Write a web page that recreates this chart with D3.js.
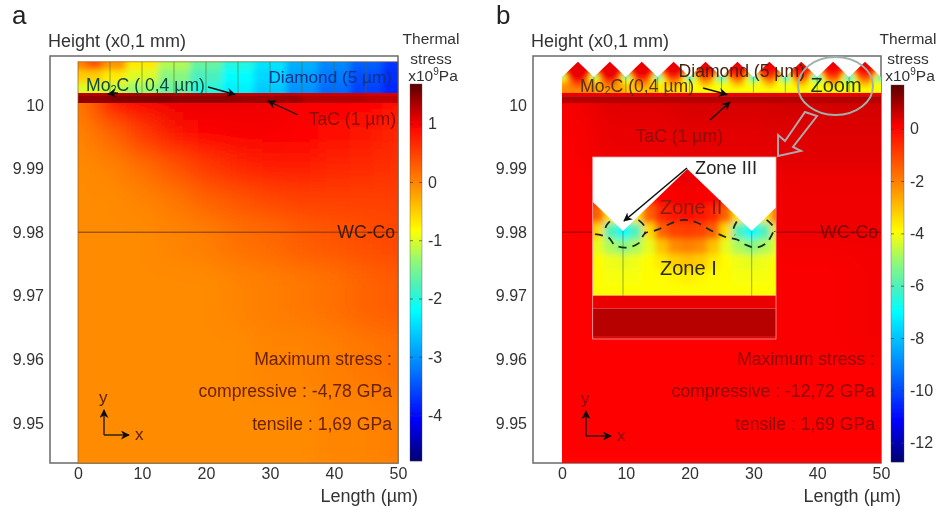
<!DOCTYPE html>
<html>
<head>
<meta charset="utf-8">
<script src="https://cdn.jsdelivr.net/npm/d3@7"></script>
<style>
  html, body { margin: 0; padding: 0; background: #fff; }
  svg { display: block; }
  text { font-family: "Liberation Sans", Arial, sans-serif; }
</style>
</head>
<body>
<svg id="chart" width="941" height="510"></svg>
<script>
// colour map, position along the bar (0 = top, 1 = bottom)
const mapStops = [0, 0.11, 0.27, 0.39, 0.47, 0.54, 0.60, 0.75, 0.89, 1];
const mapColors = ['#5a0000', '#ff0000', '#ff8c00', '#ffff00', '#90f878', '#48f0c0', '#00ffff', '#0080ff', '#0000ff', '#000070'];

// axes
const lengthTicks = [0, 10, 20, 30, 40, 50];
const heightTicks = [10, 9.99, 9.98, 9.97, 9.96, 9.95];
const barTicksA = [1, 0, -1, -2, -3, -4];
const barTicksB = [0, -2, -4, -6, -8, -10, -12];
const stressRangeA = [-4.78, 1.69];
const stressRangeB = [-12.72, 1.69];

// layer boundaries (height units)
const diamondTop = 10.0068;
const valleyHeight = 10.0044;
const diamondBase = 10.0019;
const mo2cBase = 10.0014;
const tacBase = 10.0003;
const bottomHeight = 9.9437;
const markerHeight = 9.98;
const grainX = [5, 10, 15, 20, 25, 30, 35, 40, 45];
const valleyX = [0, 5, 10, 15, 20, 25, 30, 35, 40, 45, 50];
const peakX = [2.5, 7.5, 12.5, 17.5, 22.5, 27.5, 32.5, 37.5, 42.5, 47.5];

// panel a, diamond film stress
const diamondXA = [0, 2.5, 5, 10, 15, 20, 25, 30, 35, 40, 45, 50];
const diamondYA = [10.0066, 10.0045, 10.0025];
const diamondStressA = [
  [0, 0.35, -0.1, -0.7, -1.2, -1.6, -2.0, -2.4, -2.8, -3.1, -3.4, -3.7],
  [-0.5, -0.5, -0.7, -1.0, -1.4, -1.8, -2.2, -2.5, -2.9, -3.2, -3.5, -3.75],
  [-1.0, -1.0, -1.1, -1.3, -1.6, -2.0, -2.3, -2.6, -3.0, -3.3, -3.6, -3.8]
];

// panel a, substrate stress
const substrateX = [0, 5, 10, 15, 20, 25, 30, 35, 40, 45, 50];
const substrateYA = [10.0002, 9.995, 9.99, 9.985, 9.98, 9.97, 9.96, 9.95];
const substrateStressA = [
  [0.1, 0.85, 1.0, 1.05, 1.05, 1.05, 1.05, 1.0, 1.0, 0.95, 0.9],
  [0, 0.2, 0.55, 0.8, 0.95, 1.0, 1.0, 0.98, 0.92, 0.82, 0.7],
  [-0.05, 0, 0.15, 0.35, 0.55, 0.7, 0.75, 0.75, 0.7, 0.65, 0.6],
  [-0.05, -0.05, 0, 0.1, 0.25, 0.35, 0.45, 0.5, 0.5, 0.5, 0.5],
  [-0.05, -0.05, -0.05, 0, 0.05, 0.15, 0.2, 0.3, 0.35, 0.4, 0.45],
  [-0.05, -0.05, -0.05, -0.05, -0.05, 0, 0.05, 0.1, 0.15, 0.25, 0.3],
  [-0.05, -0.05, -0.05, -0.05, -0.05, -0.05, 0, 0, 0.05, 0.1, 0.15],
  [-0.05, -0.05, -0.05, -0.05, -0.05, -0.05, -0.05, -0.05, 0, 0, 0.05]
];
const interlayerX = [0, 10, 20, 30, 40, 50];
const tacStressA = [1.45, 1.5, 1.45, 1.4, 1.3, 1.25];
const mo2cStressA = [1.3, 1.35, 1.3, 1.25, 1.2, 1.15];

// panel b, stress over one diamond tooth (valley to valley)
const toothOffsets = [0, 0.5, 1, 1.5, 2, 2.5, 3, 3.5, 4, 4.5];
const toothY = [10.0066, 10.0058, 10.005, 10.0044, 10.0038, 10.0032, 10.0026, 10.002];
const toothStress = [
  [-0.3, -0.3, 0, 0.2, 0.3, 0.3, 0.3, 0.2, 0, -0.3],
  [-1, -1, -0.3, 0.1, 0.15, 0.2, 0.15, 0.1, -0.3, -1],
  [-6, -3.5, -1.5, -0.5, -0.2, -0.1, -0.2, -0.5, -1.5, -3.5],
  [-7, -6, -3.4, -1.5, -1, -0.9, -1, -1.5, -3.4, -6],
  [-5.2, -4.8, -4.2, -3, -2.2, -2, -2.2, -3, -4.2, -4.8],
  [-4.2, -4.1, -3.9, -3.6, -3.2, -3, -3.2, -3.6, -3.9, -4.1],
  [-4, -4, -3.9, -3.9, -3.8, -3.7, -3.8, -3.9, -3.9, -4],
  [-3.95, -3.95, -3.95, -3.95, -3.95, -3.95, -3.95, -3.95, -3.95, -3.95]
];
// the first teeth at the free edge are less compressed
const toothShift = [1.8, 1.4, 0.9, 0.4, 0, 0, 0, 0, 0, 0];
const toothPeakStress = 0.3;

// panel b, substrate stress
const substrateXB = [0, 10, 25, 40, 50];
const substrateYB = [10.0002, 9.995, 9.985, 9.97, 9.95];
const substrateStressB = [
  [0.2, 0.4, 0.5, 0.55, 0.55],
  [0.15, 0.3, 0.35, 0.4, 0.4],
  [0.1, 0.15, 0.2, 0.25, 0.25],
  [0.1, 0.1, 0.1, 0.15, 0.2],
  [0.05, 0.05, 0.05, 0.05, 0.05]
];
const tacStressB = 0.8;
const mo2cStressB = 0.3;

// dashed boundary of zone II in the zoomed view (length, height)
const zoneLine = [
  [38.91, 10.00428], [39.43, 10.00415], [39.69, 10.00385], [40.14, 10.00376], [40.6, 10.00392],
  [40.86, 10.00431], [41.31, 10.00444], [41.83, 10.00468], [42.34, 10.00483], [42.86, 10.00473],
  [43.38, 10.00444], [44.03, 10.00415], [44.42, 10.00407], [44.8, 10.00385], [45.19, 10.00376],
  [45.58, 10.00394], [45.84, 10.00437]
];
const zoneArcs = [
  [[39.49, 10.00477], [39.33, 10.00455], [39.37, 10.00431]],
  [[40.6, 10.00483], [40.82, 10.0046], [40.86, 10.00431]],
  [[44.42, 10.00477], [44.3, 10.0045], [44.35, 10.00424]],
  [[45.58, 10.00483], [45.82, 10.0046], [45.9, 10.00437]]
];

const svg = d3.select('#chart');
const defs = svg.append('defs');
const root = svg.append('g').attr('filter', 'url(#soft)');

function addBlur(id, dev) {
  defs.append('filter').attr('id', id)
    .attr('filterUnits', 'userSpaceOnUse')
    .attr('x', -100).attr('y', -100).attr('width', 1141).attr('height', 710)
    .append('feGaussianBlur').attr('stdDeviation', dev);
}
addBlur('soft', 0.7);
addBlur('blurFilm', 2);
addBlur('blurZoom', 3);
addBlur('blurDia', 3);
addBlur('blurSub', 12);

defs.append('marker').attr('id', 'head')
  .attr('viewBox', '0 0 10 10').attr('refX', 9).attr('refY', 5)
  .attr('markerWidth', 9).attr('markerHeight', 9).attr('markerUnits', 'userSpaceOnUse')
  .attr('orient', 'auto')
  .append('path').attr('d', 'M0,0L10,5L0,10L3,5Z').attr('fill', '#111');

function stressColor(range) {
  const span = range[1] - range[0];
  return d3.scaleLinear()
    .domain(mapStops.map(t => range[1] - t * span))
    .range(mapColors)
    .clamp(true);
}

// one block of cells, the outer cells run past the clip so the blur keeps its edges
function drawCells(parent, xs, ys, rows, color, x, y, blurId, clipId) {
  const g = parent.append('g').attr('clip-path', 'url(#' + clipId + ')')
    .append('g').attr('filter', 'url(#' + blurId + ')');
  const over = 60;
  ys.forEach((yv, r) => {
    const top = r === 0 ? y(yv) - over : (y(ys[r - 1]) + y(yv)) / 2;
    const bot = r === ys.length - 1 ? y(yv) + over : (y(ys[r + 1]) + y(yv)) / 2;
    xs.forEach((xv, c) => {
      const left = c === 0 ? x(xv) - over : (x(xs[c - 1]) + x(xv)) / 2;
      const right = c === xs.length - 1 ? x(xv) + over : (x(xs[c + 1]) + x(xv)) / 2;
      g.append('rect')
        .attr('x', left).attr('y', top)
        .attr('width', right - left + 0.6).attr('height', bot - top + 0.6)
        .attr('shape-rendering', 'crispEdges')
        .attr('fill', color(rows[r][c]));
    });
  });
}

function addClip(id, build) {
  build(defs.append('clipPath').attr('id', id));
}

function clipRect(id, x0, y0, x1, y1) {
  addClip(id, c => c.append('rect').attr('x', x0).attr('y', y0).attr('width', x1 - x0).attr('height', y1 - y0));
}

function label(g, x, y, str, size, fill, anchor) {
  return g.append('text').attr('x', x).attr('y', y)
    .attr('font-size', size).attr('fill', fill)
    .attr('text-anchor', anchor || 'start')
    .attr('dominant-baseline', 'middle')
    .text(str);
}

function arrow(g, x1, y1, x2, y2, w) {
  g.append('line').attr('x1', x1).attr('y1', y1).attr('x2', x2).attr('y2', y2)
    .attr('stroke', '#111').attr('stroke-width', w || 1.3)
    .attr('marker-end', 'url(#head)');
}

function mo2cLabel(g, x, y, fill, rest) {
  const t = label(g, x, y, 'Mo', 17.6, fill);
  t.append('tspan').attr('font-size', 11).attr('dy', 4).text('2');
  t.append('tspan').attr('dy', -4).text(rest);
}

// frame, axes, colour bar and the text around a panel
function drawFrame(p) {
  const g = root;
  g.append('rect').attr('x', p.frameL).attr('y', p.frameT)
    .attr('width', p.frameR - p.frameL).attr('height', p.frameB - p.frameT)
    .attr('fill', 'none').attr('stroke', '#6a6a6a').attr('stroke-width', 1.5);

  const xAxis = d3.axisBottom(p.x).tickValues(lengthTicks).tickSize(0).tickPadding(5);
  const ax = g.append('g').attr('transform', 'translate(0,' + p.frameB + ')').call(xAxis);
  const yAxis = d3.axisLeft(p.y).tickValues(heightTicks).tickSize(0).tickPadding(6).tickFormat(d => String(d));
  const ay = g.append('g').attr('transform', 'translate(' + p.frameL + ',0)').call(yAxis);
  [ax, ay].forEach(a => {
    a.select('.domain').remove();
    a.selectAll('text').attr('font-size', 16).attr('fill', '#333')
      .attr('font-family', '"Liberation Sans", Arial, sans-serif');
  });

  label(g, p.frameL - 2, 42, 'Height (x0,1 mm)', 18, '#333');
  label(g, p.frameR + 20, 497, 'Length (µm)', 18, '#333', 'end');
  label(g, p.letterX, 17, p.letter, 26, '#222');

  // colour bar
  const bar = d3.scaleLinear().domain([p.range[1], p.range[0]]).range([p.barT, p.barB]);
  const color = stressColor(p.range);
  d3.range(p.barT, p.barB, 1).forEach(py => {
    g.append('rect').attr('x', p.barL).attr('y', py)
      .attr('width', p.barW).attr('height', 1.2)
      .attr('fill', color(bar.invert(py + 0.5)));
  });
  g.append('rect').attr('x', p.barL).attr('y', p.barT).attr('width', p.barW).attr('height', p.barB - p.barT)
    .attr('fill', 'none').attr('stroke', '#555').attr('stroke-opacity', 0.5).attr('stroke-width', 0.8);

  p.barTicks.forEach(v => {
    g.append('line').attr('x1', p.barL).attr('x2', p.barL + 3).attr('y1', bar(v)).attr('y2', bar(v))
      .attr('stroke', '#333').attr('stroke-opacity', 0.6);
    g.append('line').attr('x1', p.barL + p.barW - 3).attr('x2', p.barL + p.barW).attr('y1', bar(v)).attr('y2', bar(v))
      .attr('stroke', '#333').attr('stroke-opacity', 0.6);
    label(g, p.barL + p.barW + 6, bar(v) + 1, String(v), 16, '#333');
  });

  label(g, p.barTitleX, 40, 'Thermal', 15.5, '#333', 'middle');
  label(g, p.barTitleX, 60, 'stress', 15.5, '#333', 'middle');
  const unit = label(g, p.barTitleX + 2, 77, 'x10', 15.5, '#333', 'middle');
  unit.append('tspan').attr('font-size', 10).attr('dy', -5).text('9');
  unit.append('tspan').attr('dy', 5).text('Pa');
  return color;
}

function layerRect(g, x, y, x0, x1, top, bot, fill) {
  g.append('rect').attr('x', x(x0)).attr('y', y(top))
    .attr('width', x(x1) - x(x0)).attr('height', y(bot) - y(top))
    .attr('fill', fill);
}

function grainLines(g, x, y, xs, top, bot) {
  xs.forEach(v => {
    g.append('line').attr('x1', x(v)).attr('x2', x(v)).attr('y1', y(top)).attr('y2', y(bot))
      .attr('stroke', '#4a6a20').attr('stroke-opacity', 0.55).attr('stroke-width', 1);
  });
}

function axesGlyph(g, ox, oy, fill) {
  arrow(g, ox, oy, ox, oy - 25, 1.3);
  arrow(g, ox, oy, ox + 25, oy, 1.3);
  label(g, ox - 5, oy - 36, 'y', 17, fill);
  label(g, ox + 31, oy + 1, 'x', 17, fill);
}

// ---- panel a ----
const xA = d3.scaleLinear().domain([0, 50]).range([78, 398]);
const yA = d3.scaleLinear().domain([10, 9.95]).range([105, 423]);
const colorA = drawFrame({
  x: xA, y: yA, frameL: 50, frameR: 398, frameT: 56, frameB: 463,
  letter: 'a', letterX: 12, range: stressRangeA, barTicks: barTicksA,
  barL: 410, barW: 12, barT: 84, barB: 461, barTitleX: 431
});
clipRect('clipDiaA', xA(0), yA(diamondTop), xA(50), yA(diamondBase));
clipRect('clipSubA', xA(0), yA(tacBase), xA(50), yA(bottomHeight));
clipRect('clipTacA', xA(0), yA(mo2cBase), xA(50), yA(tacBase));
clipRect('clipMoA', xA(0), yA(diamondBase), xA(50), yA(mo2cBase));
drawCells(root, diamondXA, diamondYA, diamondStressA, colorA, xA, yA, 'blurDia', 'clipDiaA');
drawCells(root, substrateX, substrateYA, substrateStressA, colorA, xA, yA, 'blurSub', 'clipSubA');
drawCells(root, interlayerX, [10.001], [tacStressA], colorA, xA, yA, 'blurDia', 'clipTacA');
drawCells(root, interlayerX, [10.0016], [mo2cStressA], colorA, xA, yA, 'blurDia', 'clipMoA');
grainLines(root, xA, yA, grainX, diamondTop, diamondBase);
root.append('line').attr('x1', xA(0)).attr('x2', xA(50)).attr('y1', yA(markerHeight)).attr('y2', yA(markerHeight))
  .attr('stroke', '#7a3a10').attr('stroke-width', 1);
root.append('rect').attr('x', xA(0)).attr('y', yA(diamondTop))
  .attr('width', xA(50) - xA(0)).attr('height', yA(bottomHeight) - yA(diamondTop))
  .attr('fill', 'none').attr('stroke', '#8a6030').attr('stroke-opacity', 0.7).attr('stroke-width', 1);

label(root, 392, 78, 'Diamond (5 µm)', 17.2, '#10308a', 'end');
mo2cLabel(root, 86, 86, '#0f4a40', 'C ( 0,4 µm)');
arrow(root, 208, 87, 235, 94.5);
arrow(root, 118, 93, 108, 94);
label(root, 396, 120, 'TaC (1 µm)', 17.6, '#8a1008', 'end');
arrow(root, 298, 115, 268, 101);
label(root, 395, 233, 'WC-Co', 17.6, '#3a1a08', 'end');
label(root, 392, 360, 'Maximum stress :', 17.6, '#6a2006', 'end');
label(root, 392, 392, 'compressive : -4,78 GPa', 17.6, '#6a2006', 'end');
label(root, 392, 425, 'tensile  : 1,69 GPa', 17.6, '#6a2006', 'end');
axesGlyph(root, 104, 435, '#5a2006');

// ---- panel b ----
const xB = d3.scaleLinear().domain([0, 50]).range([562, 881]);
const yB = d3.scaleLinear().domain([10, 9.95]).range([105, 423]);
const colorB = drawFrame({
  x: xB, y: yB, frameL: 533, frameR: 881, frameT: 56, frameB: 463,
  letter: 'b', letterX: 496, range: stressRangeB, barTicks: barTicksB,
  barL: 891, barW: 13, barT: 85, barB: 462, barTitleX: 908
});

// teeth repeated along the film
const filmX = [];
peakX.forEach(p => toothOffsets.forEach(o => filmX.push(p - 2.5 + o)));
const filmRows = toothStress.map(r => toothShift.flatMap(s => r.map(v => Math.min(v + s, toothPeakStress))));

function toothProfile(x, y, xMin, xMax, floor) {
  const pts = [];
  valleyX.forEach((v, i) => {
    pts.push([x(v), y(valleyHeight)]);
    if (i < peakX.length) pts.push([x(peakX[i]), y(diamondTop)]);
  });
  return 'M' + x(xMin) + ',' + y(floor) + 'L' + pts.map(p => p.join(',')).join('L') + 'L' + x(xMax) + ',' + y(floor) + 'Z';
}

addClip('clipDiaB', c => c.append('path').attr('d', toothProfile(xB, yB, 0, 50, diamondBase)));
clipRect('clipSubB', xB(0), yB(tacBase), xB(50), yB(bottomHeight));
drawCells(root, filmX, toothY, filmRows, colorB, xB, yB, 'blurFilm', 'clipDiaB');
drawCells(root, substrateXB, substrateYB, substrateStressB, colorB, xB, yB, 'blurSub', 'clipSubB');
layerRect(root, xB, yB, 0, 50, diamondBase, mo2cBase, colorB(mo2cStressB));
layerRect(root, xB, yB, 0, 50, mo2cBase, tacBase, colorB(tacStressB));
grainLines(root, xB, yB, grainX, valleyHeight, diamondBase);
root.append('line').attr('x1', xB(0)).attr('x2', xB(50)).attr('y1', yB(markerHeight)).attr('y2', yB(markerHeight))
  .attr('stroke', '#8a0808').attr('stroke-width', 1);

label(root, 805, 72, 'Diamond (5 µm)', 17.6, '#4a2410', 'end');
mo2cLabel(root, 580, 87, '#5a3010', 'C (0,4 µm)');
arrow(root, 703, 88, 727, 94.5);
label(root, 723, 137, 'TaC (1 µm)', 17.6, '#8f0a0a', 'end');
arrow(root, 710, 120, 730, 102);
label(root, 836, 87, 'Zoom', 20, '#1f3a10', 'middle');
root.append('ellipse').attr('cx', 835.5).attr('cy', 86).attr('rx', 37.5).attr('ry', 29)
  .attr('fill', 'none').attr('stroke', '#9fb0a8').attr('stroke-width', 2);
root.append('path').attr('d', 'M805,112L817,116L793,147L801,151L778,156L778,135L785,141Z')
  .attr('fill', 'none').attr('stroke', '#b0a8a8').attr('stroke-width', 2);
label(root, 878, 233, 'WC-Co', 17.6, '#7a0505', 'end');
label(root, 875, 360, 'Maximum stress :', 17.6, '#8f0808', 'end');
label(root, 875, 392, 'compressive :  -12,72 GPa', 17.6, '#8f0808', 'end');
label(root, 875, 425, 'tensile : 1,69 GPa', 17.6, '#8f0808', 'end');
axesGlyph(root, 586, 436, '#8f0808');

// ---- zoomed view of one tooth ----
const xZ = d3.scaleLinear().domain([40, 45]).range([623, 751.7]);
const yZ = d3.scaleLinear().domain([diamondTop, valleyHeight]).range([169, 231]);
const zoomBox = { l: 592.7, r: 776, t: 157, b: 339 };
root.append('rect').attr('x', zoomBox.l).attr('y', zoomBox.t)
  .attr('width', zoomBox.r - zoomBox.l).attr('height', zoomBox.b - zoomBox.t)
  .attr('fill', '#fff');
clipRect('clipZoom', zoomBox.l, zoomBox.t, zoomBox.r, zoomBox.b);
addClip('clipDiaZ', c => c.append('path').attr('clip-path', 'url(#clipZoom)')
  .attr('d', toothProfile(xZ, yZ, 0, 50, diamondBase)));
drawCells(root, filmX, toothY, filmRows, colorB, xZ, yZ, 'blurZoom', 'clipDiaZ');
const zoomLayers = root.append('g').attr('clip-path', 'url(#clipZoom)');
layerRect(zoomLayers, xZ, yZ, 30, 50, diamondBase, mo2cBase, colorB(mo2cStressB));
layerRect(zoomLayers, xZ, yZ, 30, 50, mo2cBase, tacBase, colorB(tacStressB));
layerRect(zoomLayers, xZ, yZ, 30, 50, tacBase, 9.99, colorB(mo2cStressB));
grainLines(zoomLayers, xZ, yZ, [40, 45], valleyHeight, diamondBase);
root.append('rect').attr('x', zoomBox.l).attr('y', zoomBox.t)
  .attr('width', zoomBox.r - zoomBox.l).attr('height', zoomBox.b - zoomBox.t)
  .attr('fill', 'none').attr('stroke', '#f0a0a0').attr('stroke-width', 0.8);

const zoneCurve = d3.line().x(d => xZ(d[0])).y(d => yZ(d[1])).curve(d3.curveCatmullRom);
[zoneLine].concat(zoneArcs).forEach(pts => {
  root.append('path').attr('d', zoneCurve(pts))
    .attr('fill', 'none').attr('stroke', '#1c2a1c')
    .attr('stroke-width', 1.8).attr('stroke-dasharray', '8 6');
});
label(root, 695, 169, 'Zone III', 18.3, '#222');
label(root, 660, 209, 'Zone II', 20, '#8a1a0a');
label(root, 660, 270, 'Zone I', 20, '#2a2a10');
arrow(root, 687, 168, 624, 221, 1.6);
</script>
</body>
</html>
